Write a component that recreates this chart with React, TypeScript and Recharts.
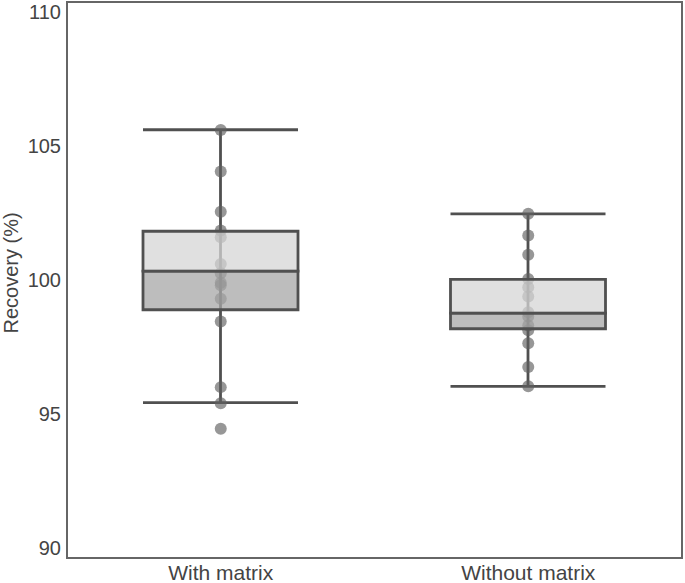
import React from "react";
import {
  ComposedChart,
  Bar,
  Scatter,
  XAxis,
  YAxis,
  ReferenceArea,
} from "recharts";

const categories = ["With matrix", "Without matrix"];
const whiskerLow = [95.42, 96.03];
const q1 = [98.89, 98.18];
const median = [100.33, 98.76];
const q3 = [101.82, 100.02];
const whiskerHigh = [105.61, 102.47];

const withMatrixPoints = [
  105.6, 104.05, 102.55, 101.85, 101.6, 100.6, 100.25, 99.9, 99.8, 99.3, 98.45,
  96.0, 95.4, 94.45,
];
const withoutMatrixPoints = [
  102.47, 101.66, 100.94, 100.04, 99.73, 99.38, 98.8, 98.64, 98.3, 98.12, 97.64,
  96.75, 96.03,
];

const yTicks = [90, 95, 100, 105, 110];
const yDomain = [89.62, 110.38];

const stats = categories.map((name, i) => ({
  name,
  whisker: [whiskerLow[i], whiskerHigh[i]],
  lower: [q1[i], median[i]],
  upper: [median[i], q3[i]],
}));

const points = [
  ...withMatrixPoints.map((v) => ({ name: categories[0], value: v })),
  ...withoutMatrixPoints.map((v) => ({ name: categories[1], value: v })),
];

const LINE = "#505050";
const FONT = "'Liberation Sans', Arial, sans-serif";

function Whisker(props: any) {
  const { x, y, width, height } = props;
  const cx = x + width / 2;
  return (
    <g stroke={LINE} strokeWidth={2.8}>
      <line x1={cx} y1={y} x2={cx} y2={y + height} />
      <line x1={x} y1={y} x2={x + width} y2={y} />
      <line x1={x} y1={y + height} x2={x + width} y2={y + height} />
    </g>
  );
}

function Dot(props: any) {
  return (
    <circle
      cx={props.cx}
      cy={props.cy}
      r={6}
      fill="#606060"
      fillOpacity={0.65}
    />
  );
}

function YLabel(props: any) {
  const vb = props.viewBox || {};
  const x = vb.x + 11;
  const y = vb.y + vb.height / 2 - 7;
  return (
    <text
      x={x}
      y={y}
      transform={`rotate(-90, ${x}, ${y})`}
      textAnchor="middle"
      dominantBaseline="central"
      fill="#444"
      fontSize={20}
      fontFamily={FONT}
    >
      Recovery (%)
    </text>
  );
}

export default function App() {
  return (
    <div style={{ position: "absolute", left: 0, top: 0, fontFamily: FONT }}>
      <ComposedChart
        width={685}
        height={583}
        data={stats}
        margin={{ top: 2, right: 3, bottom: 0, left: 0 }}
      >
        <XAxis
          xAxisId="a"
          dataKey="name"
          type="category"
          allowDuplicatedCategory={false}
          axisLine={false}
          tickLine={false}
          tickSize={3}
          tickMargin={4}
          height={25}
          tick={{ fill: "#444", fontSize: 21, fontFamily: FONT }}
        />
        <XAxis xAxisId="w" dataKey="name" hide />
        <XAxis xAxisId="b" dataKey="name" hide />
        <XAxis xAxisId="c" dataKey="name" hide />
        <YAxis
          type="number"
          domain={yDomain}
          ticks={yTicks}
          allowDataOverflow
          width={67}
          axisLine={false}
          tickLine={false}
          tickSize={4}
          tickMargin={2}
          tick={{ fill: "#444", fontSize: 20, fontFamily: FONT }}
          label={{ content: <YLabel /> }}
        />
        <ReferenceArea
          xAxisId="a"
          y1={yDomain[0]}
          y2={yDomain[1]}
          fill="none"
          fillOpacity={0}
          stroke="#666"
          strokeWidth={2}
          strokeOpacity={1}
          ifOverflow="visible"
        />
        <Bar
          xAxisId="w"
          dataKey="whisker"
          barSize={155}
          shape={<Whisker />}
          isAnimationActive={false}
        />
        <Scatter
          xAxisId="a"
          data={points}
          dataKey="value"
          shape={<Dot />}
          isAnimationActive={false}
        />
        <Bar
          xAxisId="b"
          dataKey="lower"
          barSize={155}
          fill="#a7a7a7"
          fillOpacity={0.75}
          stroke={LINE}
          strokeWidth={2.8}
          zIndex={700}
          isAnimationActive={false}
        />
        <Bar
          xAxisId="c"
          dataKey="upper"
          barSize={155}
          fill="#d6d6d6"
          fillOpacity={0.75}
          stroke={LINE}
          strokeWidth={2.8}
          zIndex={700}
          isAnimationActive={false}
        />
      </ComposedChart>
    </div>
  );
}
